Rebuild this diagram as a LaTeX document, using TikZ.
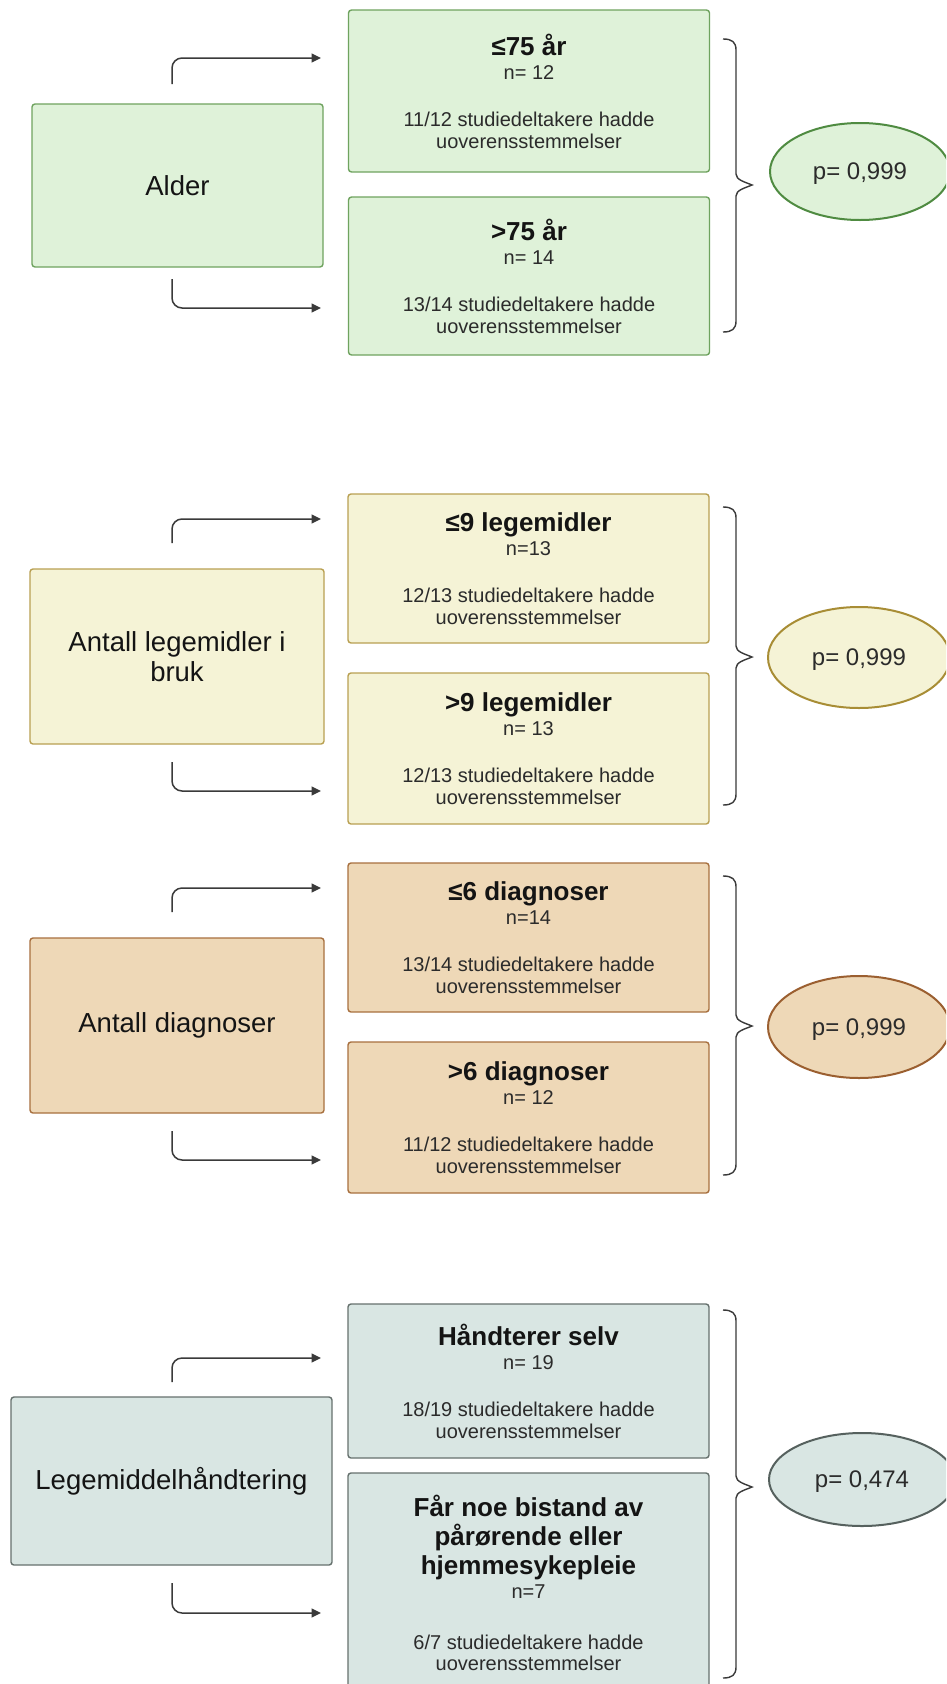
\documentclass[tikz,border=0pt]{standalone}
\usepackage{fontspec}
\setmainfont{Liberation Sans}
\usetikzlibrary{arrows.meta,shapes.geometric}

% palette per group
\definecolor{gfill}{HTML}{DFF2D9}\definecolor{gline}{HTML}{6FA35F}\definecolor{gell}{HTML}{4F8B41}
\definecolor{yfill}{HTML}{F5F3D6}\definecolor{yline}{HTML}{B9A052}\definecolor{yell}{HTML}{A88D35}
\definecolor{ofill}{HTML}{EED8B7}\definecolor{oline}{HTML}{A8703F}\definecolor{oell}{HTML}{9B5F30}
\definecolor{tfill}{HTML}{D9E6E3}\definecolor{tline}{HTML}{66716E}\definecolor{tell}{HTML}{56615E}
\definecolor{ink}{HTML}{141414}
\definecolor{bodyink}{HTML}{2B2B2B}
\definecolor{wire}{HTML}{3A3A3A}

\newcommand{\fsz}[2]{\fontsize{#1}{#2}\selectfont}
% text of a subgroup box: title, count, two result lines
\newcommand{\subcell}[4]{\parbox{340pt}{\centering\parskip=0pt
  \fsz{26}{26}\bfseries\color{ink}#1\par
  \fsz{20}{24}\mdseries\color{bodyink}#2\par
  \fsz{20}{47}#3\par
  \fsz{20}{22}#4\par}}
\newcommand{\mainlab}[2][260pt]{\parbox{#1}{\centering\parskip=0pt\color{ink}\fsz{27.5}{30}#2\par}}

\tikzset{
  box/.style={rounded corners=3pt, line width=1.4pt, inner sep=0pt},
  subbox/.style={box, minimum width=361pt},
  pval/.style={ellipse, line width=2pt, inner sep=0pt, text depth=0pt,
    font=\fsz{24}{26}, text=bodyink},
  arr/.style={draw=wire, line width=1.5pt, rounded corners=10pt,
    -{Triangle[length=9.5pt,width=9pt]}},
  bracestyle/.style={draw=wire, line width=1.4pt},
}

% curly bracket: top, tip and bottom heights
\newcommand{\curly}[3]{%
  \draw[bracestyle] (723,#1) .. controls (732,#1) and (736,#1+3) .. (736,#1+11)
    -- (736,#2-11) .. controls (736,#2-5) and (745,#2-3) .. (752,#2)
    .. controls (745,#2+3) and (736,#2+5) .. (736,#2+11)
    -- (736,#3-11) .. controls (736,#3-3) and (732,#3) .. (723,#3);}

\begin{document}
\begin{tikzpicture}[x=1pt,y=-1pt]
\clip (0,0) rectangle (946,1684);
\fill[white] (0,0) rectangle (946,1684);

% ---------- Alder ----------
\node[box, fill=gfill, draw=gline, minimum width=291pt, minimum height=163pt] (M1) at (177.5,185.5) {\mainlab{Alder}};
\node[subbox, fill=gfill, draw=gline, minimum height=162pt] (T1) at (529,91)
  {\subcell{≤75 år}{n= 12}{11/12 studiedeltakere hadde}{uoverensstemmelser}};
\node[subbox, fill=gfill, draw=gline, minimum height=158pt] (B1) at (529,276)
  {\subcell{>75 år}{n= 14}{13/14 studiedeltakere hadde}{uoverensstemmelser}};
\node[pval, fill=gfill, draw=gell, minimum width=180pt, minimum height=97pt] (P1) at (860,171.5) {p= 0,999};
\coordinate (a1s) at (172,84);   \coordinate (a1e) at (321,58);
\coordinate (b1s) at (172,279);  \coordinate (b1e) at (321,308);
\draw[arr] (a1s) |- (a1e);
\draw[arr] (b1s) |- (b1e);
\curly{39}{185}{332}

% ---------- Antall legemidler ----------
\node[box, fill=yfill, draw=yline, minimum width=294pt, minimum height=175pt] (M2) at (177,656.5) {\mainlab{Antall legemidler i\\bruk}};
\node[subbox, fill=yfill, draw=yline, minimum height=149pt] (T2) at (528.5,568.5)
  {\subcell{≤9 legemidler}{n=13}{12/13 studiedeltakere hadde}{uoverensstemmelser}};
\node[subbox, fill=yfill, draw=yline, minimum height=151pt] (B2) at (528.5,748.5)
  {\subcell{>9 legemidler}{n= 13}{12/13 studiedeltakere hadde}{uoverensstemmelser}};
\node[pval, fill=yfill, draw=yell, minimum width=182pt, minimum height=101pt] (P2) at (859,657.5) {p= 0,999};
\coordinate (a2s) at (172,543);  \coordinate (a2e) at (321,519);
\coordinate (b2s) at (172,762);  \coordinate (b2e) at (321,791);
\draw[arr] (a2s) |- (a2e);
\draw[arr] (b2s) |- (b2e);
\curly{507}{657}{805}

% ---------- Antall diagnoser ----------
\node[box, fill=ofill, draw=oline, minimum width=294pt, minimum height=175pt] (M3) at (177,1025.5) {\mainlab{Antall diagnoser}};
\node[subbox, fill=ofill, draw=oline, minimum height=149pt] (T3) at (528.5,937.5)
  {\subcell{≤6 diagnoser}{n=14}{13/14 studiedeltakere hadde}{uoverensstemmelser}};
\node[subbox, fill=ofill, draw=oline, minimum height=151pt] (B3) at (528.5,1117.5)
  {\subcell{>6 diagnoser}{n= 12}{11/12 studiedeltakere hadde}{uoverensstemmelser}};
\node[pval, fill=ofill, draw=oell, minimum width=182pt, minimum height=102pt] (P3) at (859,1027) {p= 0,999};
\coordinate (a3s) at (172,912);  \coordinate (a3e) at (321,888);
\coordinate (b3s) at (172,1131); \coordinate (b3e) at (321,1160);
\draw[arr] (a3s) |- (a3e);
\draw[arr] (b3s) |- (b3e);
\curly{876}{1026}{1175}

% ---------- Legemiddelhåndtering ----------
\node[box, fill=tfill, draw=tline, minimum width=321pt, minimum height=168pt] (M4) at (171.5,1481) {\mainlab[300pt]{Legemiddelhåndtering}};
\node[subbox, fill=tfill, draw=tline, minimum height=154pt] (T4) at (528.5,1381)
  {\subcell{Håndterer selv}{n= 19}{18/19 studiedeltakere hadde}{uoverensstemmelser}};
\node[subbox, fill=tfill, draw=tline, minimum height=219pt] (B4) at (528.5,1582.5)
  {\parbox{340pt}{\centering\parskip=0pt
    \fsz{26}{29}\bfseries\color{ink}Får noe bistand av\\pårørende eller\\hjemmesykepleie\par
    \fsz{20}{24}\mdseries\color{bodyink}n=7\par
    \fsz{20}{51}6/7 studiedeltakere hadde\par
    \fsz{20}{21}uoverensstemmelser\par}};
\node[pval, fill=tfill, draw=tell, minimum width=186pt, minimum height=93pt] (P4) at (862,1479.5) {p= 0,474};
\coordinate (a4s) at (172,1382); \coordinate (a4e) at (321,1358);
\coordinate (b4s) at (172,1583); \coordinate (b4e) at (321,1613);
\draw[arr] (a4s) |- (a4e);
\draw[arr] (b4s) |- (b4e);
\curly{1310}{1487}{1678}
\end{tikzpicture}
\end{document}
